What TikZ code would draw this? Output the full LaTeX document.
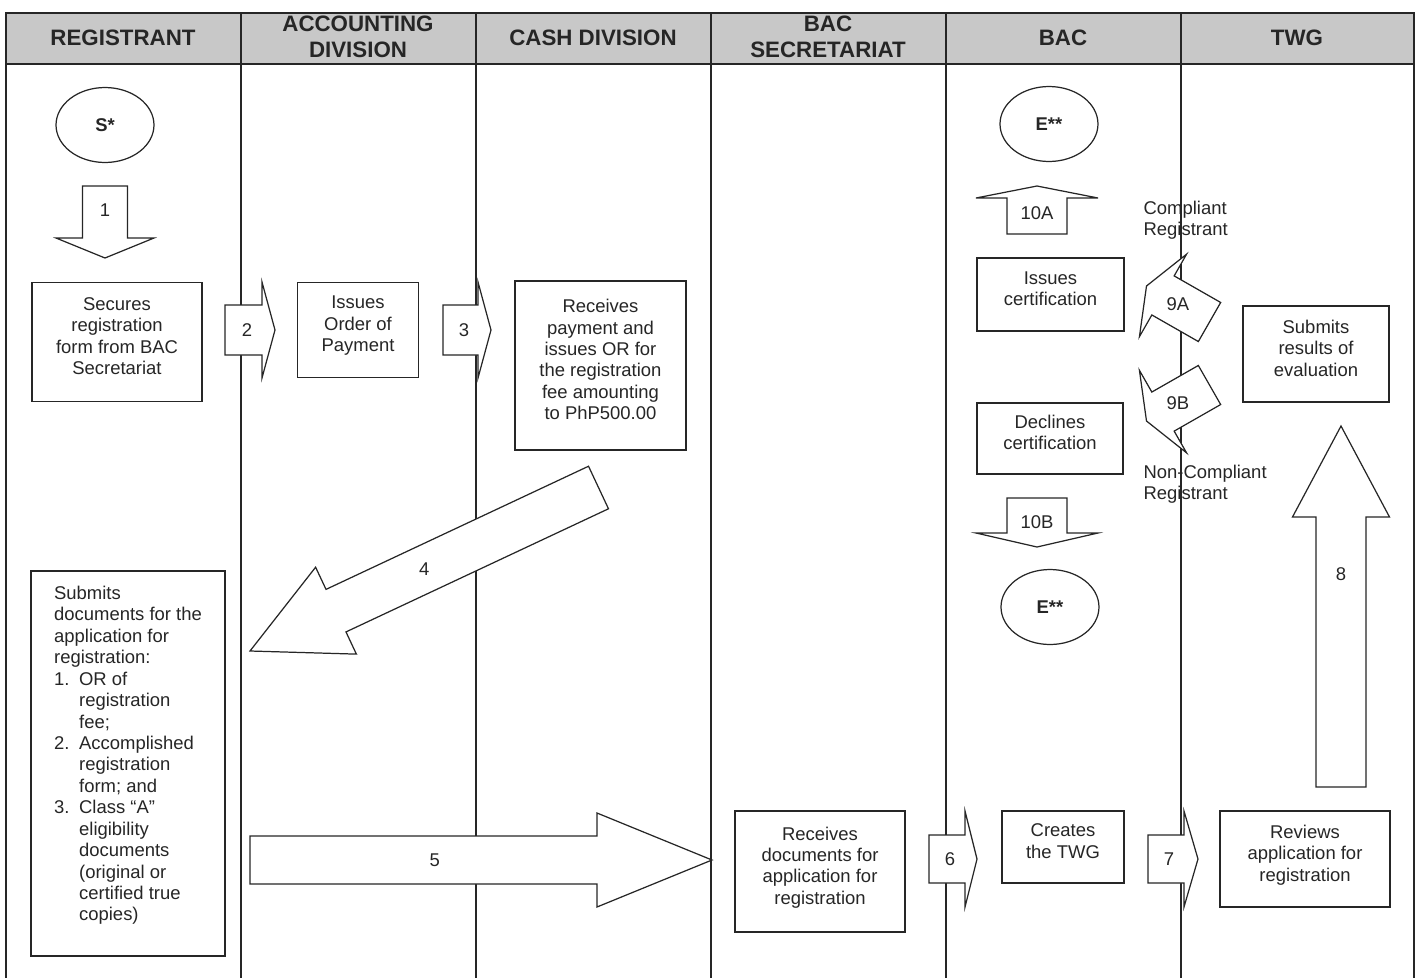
\documentclass[tikz,border=0pt]{standalone}
\usepackage{fontspec}
\setmainfont{Liberation Sans}
\usetikzlibrary{calc,shapes.geometric}
\definecolor{headgray}{RGB}{200,200,200}

% block arrow: tail, tip, shaft half width, head half width, head length (px), label pos, name, label
\newcommand{\blockarrow}[8]{%
	\coordinate (base) at ($(#2)!#5*0.02cm!(#1)$);
	\filldraw[fill=white] ($(#1)!#3*0.02cm!90:(#2)$) -- ($(base)!#3*0.02cm!90:(#2)$)
		-- ($(base)!#4*0.02cm!90:(#2)$) -- (#2) -- ($(base)!#4*0.02cm!-90:(#2)$)
		-- ($(base)!#3*0.02cm!-90:(#2)$) -- ($(#1)!#3*0.02cm!-90:(#2)$) -- cycle;
	\node[lbl] (#7) at ($(#1)!#6!(#2)$) {#8};
}

\begin{document}
\begin{tikzpicture}[x=0.02cm,y=-0.02cm,line width=0.7pt,color=black!85,
	font=\fontsize{10.5}{12.2}\selectfont]
	\tikzstyle{head}=[align=center,font=\bfseries\fontsize{12.7}{14.7}\selectfont]
	\tikzstyle{box}=[draw,fill=white,align=center,inner sep=0pt,text depth=0.24cm]
	\tikzstyle{term}=[draw,fill=white,shape=ellipse,inner sep=0pt,minimum width=1.96cm,minimum height=1.5cm,font=\bfseries\fontsize{10.5}{12.2}\selectfont]
	\tikzstyle{lbl}=[inner sep=1pt]
	\tikzstyle{note}=[align=left,inner sep=0pt,anchor=west]

	\useasboundingbox (0,0) rectangle (1418,978);

	% lanes
	\fill[headgray] (6,13) rectangle (1414,64);
	\draw (6,978) -- (6,13) -- (1414,13) -- (1414,978);
	\draw (6,64) -- (1414,64);
	\foreach \x in {241,476,711,946,1181}
		\draw (\x,13) -- (\x,978);

	\node[head](hReg) at (123,38){REGISTRANT};
	\node[head](hAcc) at (358,37){ACCOUNTING\\DIVISION};
	\node[head](hCash) at (593,38){CASH DIVISION};
	\node[head](hSec) at (828,37){BAC\\SECRETARIAT};
	\node[head](hBac) at (1063,38){BAC};
	\node[head](hTwg) at (1297,38){TWG};

	% arrow ends
	\coordinate (t1) at (105,186);   \coordinate (p1) at (105,258);
	\coordinate (t2) at (225,330);   \coordinate (p2) at (275,330);
	\coordinate (t3) at (443,330);   \coordinate (p3) at (491,330);
	\coordinate (t4) at (598.5,487.5); \coordinate (p4) at (250,651);
	\coordinate (t5) at (250,860);   \coordinate (p5) at (712,860);
	\coordinate (t6) at (929,859);   \coordinate (p6) at (977,859);
	\coordinate (t7) at (1148,859);  \coordinate (p7) at (1198,859);
	\coordinate (t8) at (1341,787);  \coordinate (p8) at (1341,426);
	\coordinate (t9a) at (1209.5,322); \coordinate (p9a) at (1146.5,286);
	\coordinate (t9b) at (1209.5,385); \coordinate (p9b) at (1146.5,421);
	\coordinate (t10a) at (1037,234); \coordinate (p10a) at (1037,186);
	\coordinate (t10b) at (1037,498); \coordinate (p10b) at (1037,547);

	\blockarrow{t1}{p1}{22.5}{49}{20}{0.33}{a1}{1}
	\blockarrow{t2}{p2}{25}{48}{13}{0.44}{a2}{2}
	\blockarrow{t3}{p3}{25}{48}{13}{0.44}{a3}{3}
	\blockarrow{t4}{p4}{23.5}{48}{95}{0.5}{a4}{4}
	\blockarrow{t5}{p5}{24}{47}{115}{0.4}{a5}{5}
	\blockarrow{t6}{p6}{24}{48}{12}{0.44}{a6}{6}
	\blockarrow{t7}{p7}{24}{48}{14}{0.42}{a7}{7}
	\blockarrow{t8}{p8}{25}{48.5}{91}{0.59}{a8}{8}
	\blockarrow{t9a}{p9a}{22.5}{47.5}{19}{0.5}{a9a}{9A}
	\blockarrow{t9b}{p9b}{22.5}{47.5}{19}{0.5}{a9b}{9B}
	\blockarrow{t10a}{p10a}{30}{61}{12}{0.44}{a10a}{10A}
	\blockarrow{t10b}{p10b}{30}{61}{14}{0.49}{a10b}{10B}

	% terminals
	\node[term](start) at (105,125){S*};
	\node[term](endA) at (1049,124){E**};
	\node[term](endB) at (1050,607){E**};

	% steps
	\node[box,minimum width=3.4cm,minimum height=2.38cm](secures) at (117,342)
		{Secures\\registration\\form from BAC\\Secretariat};
	\node[box,minimum width=2.42cm,minimum height=1.9cm](order) at (358,330)
		{Issues\\Order of\\Payment};
	\node[box,minimum width=3.42cm,minimum height=3.38cm](payment) at (600.5,365.5)
		{Receives\\payment and\\issues OR for\\the registration\\fee amounting\\to PhP500.00};
	\node[box,align=left,minimum width=3.88cm,minimum height=7.7cm,text depth=0.4cm](submits) at (128,763.5)
		{Submits\\documents for the\\application for\\registration:\\
		\makebox[0.5cm][l]{1.}OR of\\\hspace*{0.5cm}registration\\\hspace*{0.5cm}fee;\\
		\makebox[0.5cm][l]{2.}Accomplished\\\hspace*{0.5cm}registration\\\hspace*{0.5cm}form; and\\
		\makebox[0.5cm][l]{3.}Class “A”\\\hspace*{0.5cm}eligibility\\\hspace*{0.5cm}documents\\
		\hspace*{0.5cm}(original or\\\hspace*{0.5cm}certified true\\\hspace*{0.5cm}copies)};
	\node[box,minimum width=3.4cm,minimum height=2.42cm](recdocs) at (820,871.5)
		{Receives\\documents for\\application for\\registration};
	\node[box,minimum width=2.44cm,minimum height=1.44cm](creates) at (1063,847)
		{Creates\\the TWG};
	\node[box,minimum width=3.4cm,minimum height=1.92cm](reviews) at (1305,859)
		{Reviews\\application for\\registration};
	\node[box,minimum width=2.92cm,minimum height=1.92cm](results) at (1316,354)
		{Submits\\results of\\evaluation};
	\node[box,minimum width=2.94cm,minimum height=1.46cm](issues) at (1050.5,294.5)
		{Issues\\certification};
	\node[box,minimum width=2.92cm,minimum height=1.42cm](declines) at (1050,438.5)
		{Declines\\certification};

	\node[note](comp) at (1143,220.5){Compliant\\Registrant};
	\node[note](noncomp) at (1143,484.5){Non-Compliant\\Registrant};
\end{tikzpicture}
\end{document}
